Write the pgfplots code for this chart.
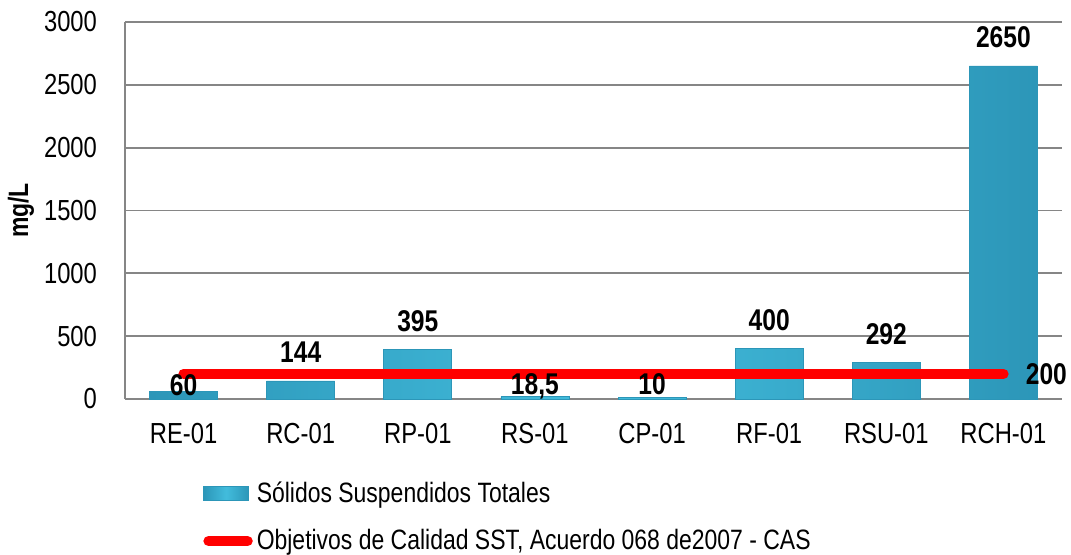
\documentclass[border=0pt]{standalone}
\usepackage{fontspec}
\setmainfont[FakeStretch=0.82]{Liberation Sans}
\usepackage{pgfplots}
\usepackage{pgfplotstable}
\pgfplotsset{compat=1.18}

\definecolor{barmid}{RGB}{66,188,220}
\definecolor{baredge}{RGB}{44,150,184}
\definecolor{gridc}{RGB}{134,134,134}

\pgfplotstableread{
x y lab dy
0 60 60 -2
1 144 144 9
2 395 395 9
3 18.5 18,5 1
4 10 10 1.5
5 400 400 9
6 292 292 9
7 2650 2650 9
}\sst

\begin{document}
\begin{tikzpicture}
\path[use as bounding box] (-62.5pt,-77.5pt) rectangle (473pt,199.5pt);
\begin{axis}[
  at={(0pt,0pt)}, anchor=south west,
  scale only axis, width=468.5pt, height=188.5pt,
  xmin=-0.5, xmax=7.5, ymin=0, ymax=3000,
  xtick={0,...,7},
  xticklabels={RE-01,RC-01,RP-01,RS-01,CP-01,RF-01,RSU-01,RCH-01},
  ytick={0,500,...,3000},
  axis lines*=left,
  axis line style={gridc, line width=0.9pt},
  ymajorgrids, grid style={gridc, line width=0.9pt},
  tick style={draw=none},
  /pgf/number format/1000 sep={},
  /pgf/number format/assume math mode=true,
  ticklabel style={font=\fontsize{14.5}{16}\selectfont},
  xticklabel style={yshift=-8.5pt},
  yticklabel style={xshift=-10.5pt},
  ylabel={\textbf{mg/L}},
  ylabel style={at={(axis description cs:-0.111,0.5)}, anchor=center, font=\fontsize{14}{16}\selectfont},
  clip=false,
  legend style={at={(axis description cs:0.083,-0.208)}, anchor=north west,
    draw=none, fill=none, inner sep=0pt, row sep=8pt,
    font=\fontsize{14}{16}\selectfont, cells={anchor=west}},
]
\addplot[ybar, bar width=34pt, draw=baredge, line width=0.4pt,
  left color=baredge, right color=baredge, middle color=barmid,
  point meta=explicit symbolic,
  visualization depends on={\thisrow{dy} \as \dy},
  nodes near coords,
  every node near coord/.append style={anchor=base, inner sep=0pt, yshift=\dy pt,
    font=\fontsize{15}{17}\selectfont\bfseries, text=black},
  legend image code/.code={\fill[left color=baredge, right color=baredge, middle color=barmid] (0pt,-3.5pt) rectangle (22.5pt,3.5pt);},
] table[x=x, y=y, meta=lab] {\sst};
\addlegendentry{Sólidos Suspendidos Totales}
\addplot[red, line width=5.2pt, line cap=round,
  legend image code/.code={\draw[red, line width=5.2pt, line cap=round] (2.5pt,0pt) -- (22pt,0pt);},
] coordinates {(0,200) (7,200)};
\addlegendentry{Objetivos de Calidad SST, Acuerdo 068 de2007 - CAS}
\node[anchor=west, inner sep=0pt, xshift=11pt, font=\fontsize{15}{17}\selectfont\bfseries] at (axis cs:7,200) {200};
\end{axis}
\end{tikzpicture}
\end{document}
